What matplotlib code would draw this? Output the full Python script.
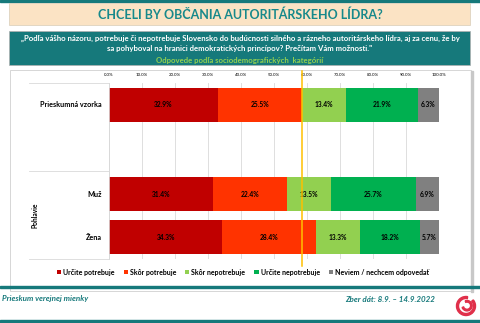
import matplotlib.pyplot as plt
import matplotlib.patches as patches
import numpy as np

plt.rcParams['font.family'] = ['Lato', 'DejaVu Sans']

# data
groups = ['Prieskumná vzorka', 'Muž', 'Žena']
answers = ['Určite potrebuje', 'Skôr potrebuje', 'Skôr nepotrebuje',
           'Určite nepotrebuje', 'Neviem / nechcem odpovedať']
values = np.array([
    [32.9, 25.5, 13.4, 21.9, 6.3],
    [31.4, 22.4, 13.5, 25.7, 6.9],
    [34.3, 28.4, 13.3, 18.2, 5.7],
])
colors = ['#C00000', '#FF3300', '#92D050', '#00B050', '#808080']
ypos = [0, 2.07, 3.07]

teal = '#16797B'
W, H = 480, 323
fig = plt.figure(figsize=(4.8, 3.23), dpi=100)


def fx(px):
    return px / W


def fy(py):
    return 1 - py / H


# background decoration
def rect(x0, y0, x1, y1, **kw):
    fig.patches.append(patches.Rectangle((fx(x0), fy(y1)), fx(x1 - x0), (y1 - y0) / H,
                                         transform=fig.transFigure, zorder=-5, **kw))


rect(0, 0, 480, 2, color=teal)
rect(9, 3, 470, 25, facecolor='#FBE3C4', edgecolor='#D8CDB8', lw=0.5)
rect(9, 31, 470, 65, facecolor=teal, edgecolor='#B0B0B0', lw=0.5)
rect(10, 70, 471, 291, facecolor='white', edgecolor='#D0D0D0', lw=0.6)
rect(471, 71, 473, 292, color='#C8C8C8')
rect(0, 286, 480, 288, color=teal)
rect(0, 320, 480, 323, color=teal)

fig.text(0.5, fy(15), 'CHCELI BY OBČANIA AUTORITÁRSKEHO LÍDRA?', ha='center', va='center',
         fontsize=9, fontweight='bold', color='#17898B')
fig.text(0.5, fy(38), '„Podľa vášho názoru, potrebuje či nepotrebuje Slovensko do budúcnosti silného a rázneho autoritárskeho lídra, aj za cenu, že by',
         ha='center', va='center', fontsize=5.6, fontweight='bold', color='white')
fig.text(0.5, fy(49), 'sa pohyboval na hranici demokratických princípov? Prečítam Vám možnosti."',
         ha='center', va='center', fontsize=5.6, fontweight='bold', color='white')
fig.text(0.5, fy(60), 'Odpovede podľa sociodemografických  kategórií', ha='center', va='center',
         fontsize=5.6, fontweight='bold', color='#92D050')

# chart
ax = fig.add_axes([fx(109), fy(259), fx(330), 176 / H])
left = np.zeros(len(groups))
for j, ans in enumerate(answers):
    bars = ax.barh(ypos, values[:, j], left=left, height=0.79, color=colors[j], label=ans, zorder=2)
    for b, v in zip(bars, values[:, j]):
        ax.text(b.get_x() + b.get_width() / 2, b.get_y() + b.get_height() / 2, f'{v:.1f}%',
                ha='center', va='center', fontsize=4.8, fontweight='bold', color='black', zorder=3)
    left += values[:, j]

ax.set_xlim(0, 100)
ax.set_ylim(3.58, -0.51)
ax.set_xticks(np.arange(0, 101, 10))
ax.set_xticklabels([f'{t:.1f}%' for t in np.arange(0, 101, 10)])
ax.xaxis.tick_top()
ax.tick_params(axis='x', length=0, labelsize=3.2, pad=4)
ax.set_yticks([])
ax.grid(axis='x', color='#D9D9D9', lw=0.6, zorder=0)
for s in ['top', 'right', 'bottom']:
    ax.spines[s].set_visible(False)
ax.spines['left'].set_color('#D9D9D9')
ax.spines['left'].set_linewidth(0.6)

# orange line at sum of first two answers of the sample
ref = values[0, 0] + values[0, 1]
ax.plot([ref, ref], [-0.8, 3.75], color='#FFC000', lw=1.1, zorder=4, clip_on=False)

# group labels and separators
for g, y in zip(groups, ypos):
    ax.text(-2.2, y, g, ha='right', va='center', fontsize=5.2, fontweight='bold')
for py in [83, 171, 259]:
    fig.add_artist(plt.Line2D([fx(29), fx(109)], [fy(py), fy(py)], color='#D9D9D9', lw=0.6))
fig.text(fx(35), fy(215), 'Pohlavie', rotation=90, ha='center', va='center',
         fontsize=4.8, fontweight='bold')

fig.legend(loc='center', bbox_to_anchor=(fx(243), fy(272)), ncol=5, frameon=False,
           handlelength=0.6, handleheight=0.6, handletextpad=0.3, columnspacing=1.3,
           prop={'weight': 'bold', 'size': 5.0})

# footer
fig.text(fx(2), fy(299), 'Prieskum verejnej mienky', ha='left', va='center',
         fontsize=5.8, fontstyle='italic', fontweight='bold', color=teal)
fig.text(fx(435), fy(299), 'Zber dát: 8.9. – 14.9.2022', ha='right', va='center',
         fontsize=5.8, fontstyle='italic', fontweight='bold', color=teal)

# logo
cx, cy = fx(466), fy(306)
lax = fig.add_axes([cx - fx(12), cy - 12 / H, fx(24), 24 / H])
lax.set_xlim(-12, 12)
lax.set_ylim(-12, 12)
lax.set_aspect('equal')
lax.axis('off')
lax.add_patch(patches.Wedge((0, 0), 9.5, 80, 400, width=2.0, color='#E0304A'))
lax.add_patch(patches.Wedge((1.0, 0.3), 5.2, 200, 470, width=1.6, color='#E0304A'))

fig.savefig('out.png', dpi=100, facecolor='white')
